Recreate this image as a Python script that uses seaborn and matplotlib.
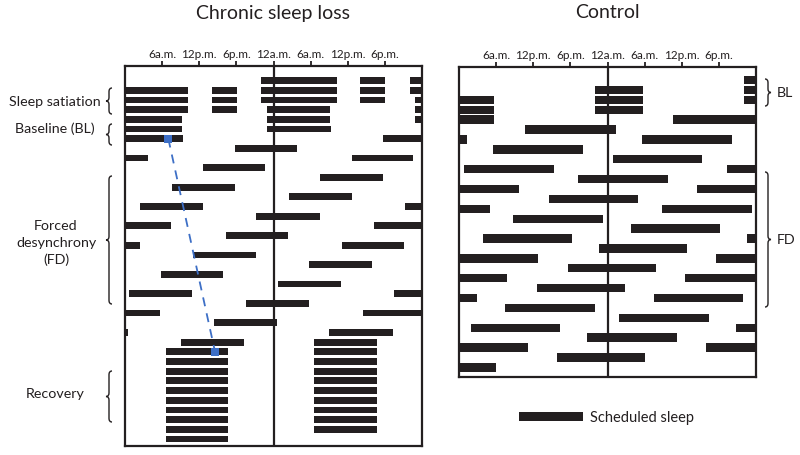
import matplotlib
matplotlib.use("Agg")
import matplotlib.pyplot as plt
from matplotlib.path import Path
from matplotlib.patches import PathPatch, Rectangle
import seaborn as sns

# --- DATA ---
# sleep episodes in hours from midnight of day 0; row r shows hours 24r .. 24r+48 (double plot)
loss_sleep_on = [46.0, 62.0, 70.0, 86.0, 94.0, 110.0, 118.9, 142.9, 166.9,
                 209.75, 252.65, 295.55, 338.5, 381.2, 424.3, 467.0, 509.75,
                 552.7, 595.5, 638.45, 681.05,
                 702.6, 726.6, 750.6, 774.6, 798.6, 822.6, 846.6, 870.6, 894.6, 918.6]
loss_sleep_off = [58.2, 66.1, 82.2, 90.1, 106.2, 114.1, 129.2, 153.2, 177.3,
                  219.75, 262.6, 305.7, 348.65, 391.5, 434.4, 477.15, 519.9,
                  562.85, 605.7, 648.5, 691.25,
                  712.7, 736.7, 760.7, 784.7, 808.7, 832.7, 856.7, 880.7, 904.7, 928.7]
loss_days = list(range(1, 39))

control_sleep_on = [70.0, 94.0, 118.0, 154.6, 197.55, 240.85, 283.25, 326.5, 368.8,
                    411.8, 454.6, 497.6, 540.6, 583.5, 625.9, 668.7, 711.9]
control_sleep_off = [77.7, 101.7, 125.7, 169.3, 212.1, 255.35, 297.7, 340.95, 383.3,
                     426.2, 468.8, 511.8, 554.9, 597.9, 640.4, 683.2, 726.0]
control_days = list(range(1, 31))

tick_hours = [6, 12, 18, 24, 30, 36, 42]
tick_labels = ["6a.m.", "12p.m.", "6p.m.", "12a.m.", "6a.m.", "12p.m.", "6p.m."]

# circadian marker drift (blue dashed line)
phase_hours = [7.0, 14.55]
phase_days = [7, 29]

INK = "#231f20"
BLUE = "#3d6fc6"
W, H = 800, 456

sns.set_theme(style="white")
plt.rcParams['font.family'] = ['Lato', 'DejaVu Sans']

fig = plt.figure(figsize=(8, 4.56), dpi=100)
fig.patch.set_facecolor("white")


def px_axes(x0, y0, x1, y1):
    return fig.add_axes([x0 / W, 1 - y1 / H, (x1 - x0) / W, (y1 - y0) / H])


def draw_panel(ax, on, off, days, bar_h, ylim):
    for r in days:
        for s, e in zip(on, off):
            a, b = max(s - 24 * r, 0), min(e - 24 * r, 48)
            if b > a:
                ax.barh(r, b - a, left=a, height=bar_h, color=INK, linewidth=0)
    ax.axvline(24, color=INK, lw=1.6)
    ax.set_xlim(0, 48)
    ax.set_ylim(*ylim)
    ax.set_xticks(tick_hours, tick_labels)
    ax.set_yticks([])
    ax.tick_params(axis='x', top=True, labeltop=True, bottom=False, labelbottom=False,
                   direction='out', length=3.5, width=1.3, pad=1.5, labelsize=8.5, colors=INK)
    for sp in ax.spines.values():
        sp.set_visible(True)
        sp.set_color(INK)
        sp.set_linewidth(1.6)
    ax.set_facecolor("white")


def brace(x, y0, y1, side, w=6, r=3.5):
    # side=-1 -> tip points left "{", side=+1 -> tip points right "}"
    xe, xt = x - side * w / 2, x + side * w / 2
    ym = (y0 + y1) / 2
    pts = [(xe, y0), (x, y0), (x, y0 + r), (x, ym - r), (x, ym), (xt, ym),
           (x, ym), (x, ym + r), (x, y1 - r), (x, y1), (xe, y1)]
    codes = [Path.MOVETO, Path.CURVE3, Path.CURVE3, Path.LINETO, Path.CURVE3, Path.CURVE3,
             Path.CURVE3, Path.CURVE3, Path.LINETO, Path.CURVE3, Path.CURVE3]
    verts = [(px / W, 1 - py / H) for px, py in pts]
    fig.add_artist(PathPatch(Path(verts, codes), transform=fig.transFigure,
                             fill=False, edgecolor=INK, lw=1.0))


ax1 = px_axes(125, 67, 422, 447)
draw_panel(ax1, loss_sleep_on, loss_sleep_off, loss_days, 0.7, (38.72, -0.5))
sns.lineplot(x=phase_hours, y=phase_days, ax=ax1, color=BLUE, linestyle=(0, (5, 4)),
             lw=1.3, marker='s', markersize=5.5, markeredgewidth=0, zorder=5)

ax2 = px_axes(459, 68, 756, 378)
draw_panel(ax2, control_sleep_on, control_sleep_off, control_days, 0.85, (30.97, -0.31))

# titles
fig.text(273 / W, 1 - 13 / H, "Chronic sleep loss", ha='center', va='center', fontsize=14, color=INK)
fig.text(607 / W, 1 - 13 / H, "Control", ha='center', va='center', fontsize=14, color=INK)

# left phase labels
fig.text(55 / W, 1 - 101.5 / H, "Sleep satiation", ha='center', va='center', fontsize=10.3, color=INK)
fig.text(55 / W, 1 - 128.5 / H, "Baseline (BL)", ha='center', va='center', fontsize=10.3, color=INK)
fig.text(56 / W, 1 - 243 / H, "Forced\ndesynchrony\n(FD)", ha='center', va='center',
         fontsize=10.3, linespacing=1.5, color=INK)
fig.text(55 / W, 1 - 394 / H, "Recovery", ha='center', va='center', fontsize=10.3, color=INK)
brace(109, 89, 115, -1)
brace(109, 125, 146, -1)
brace(109, 177, 305, -1)
brace(109, 372, 423, -1)

# right phase labels
brace(768, 80, 107, 1)
brace(768, 173, 308, 1)
fig.text(777 / W, 1 - 93 / H, "BL", ha='left', va='center', fontsize=10.3, color=INK)
fig.text(777 / W, 1 - 240 / H, "FD", ha='left', va='center', fontsize=10.3, color=INK)

# legend
fig.add_artist(Rectangle((519 / W, 1 - 422 / H), 64 / W, 9 / H, transform=fig.transFigure,
                         color=INK, lw=0))
fig.text(590 / W, 1 - 418 / H, "Scheduled sleep", ha='left', va='center', fontsize=10.5, color=INK)

fig.savefig("out.png", dpi=100, facecolor="white")
